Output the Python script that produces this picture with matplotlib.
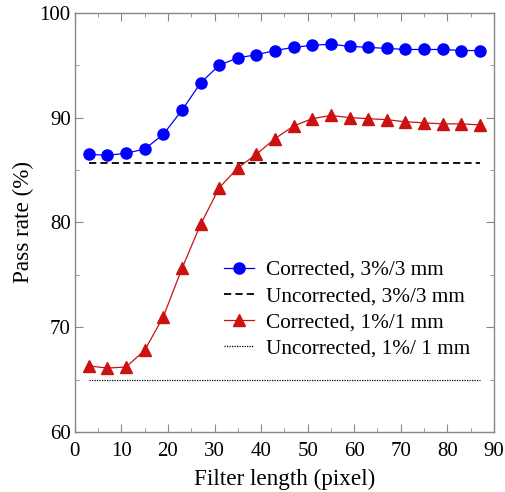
import numpy as np
import matplotlib
matplotlib.use('Agg')
import matplotlib.pyplot as plt
from matplotlib.ticker import MultipleLocator

# filter length (pixel)
filter_len = [3, 7, 11, 15, 19, 23, 27, 31, 35, 39, 43, 47, 51, 55, 59, 63, 67, 71, 75, 79, 83, 87]
# pass rates (%)
corr_3mm = [86.5, 86.4, 86.6, 87.0, 88.4, 90.7, 93.3, 95.0, 95.7, 96.0, 96.4, 96.7,
            96.9, 97.0, 96.8, 96.7, 96.6, 96.5, 96.5, 96.5, 96.4, 96.4]
corr_1mm = [66.3, 66.1, 66.2, 67.8, 71.0, 75.6, 79.8, 83.3, 85.2, 86.5, 88.0, 89.2,
            89.9, 90.2, 90.0, 89.9, 89.8, 89.6, 89.5, 89.4, 89.4, 89.3]
uncorr_3mm = 85.65
uncorr_1mm = 65.0

labels = ['Corrected, 3%/3 mm', 'Uncorrected, 3%/3 mm', 'Corrected, 1%/1 mm', 'Uncorrected, 1%/ 1 mm']

plt.rcParams['font.family'] = ['Liberation Serif', 'DejaVu Serif']

fig = plt.figure(figsize=(5.06, 4.92), dpi=100)
ax = fig.add_axes([0.148, 0.122, 0.828, 0.852])

x = np.array(filter_len)
ax.plot(x, corr_3mm, color='#0000ff', lw=0.9, marker='o', ms=8, mec='#0000ff', label=labels[0])
ax.plot([x[0], x[-1]], [uncorr_3mm]*2, color='black', lw=1.3, ls=(0, (4, 2.3)), label=labels[1])
ax.plot(x, corr_1mm, color='#cc1111', lw=0.9, marker='^', ms=8, mec='#cc1111', label=labels[2])
ax.plot([x[0], x[-1]], [uncorr_1mm]*2, color='black', lw=0.9, ls=(0, (1, 1)), label=labels[3])

ax.set_xlim(0, 90)
ax.set_ylim(60, 100)
ax.xaxis.set_major_locator(MultipleLocator(10))
ax.xaxis.set_minor_locator(MultipleLocator(5))
ax.yaxis.set_major_locator(MultipleLocator(10))
ax.yaxis.set_minor_locator(MultipleLocator(5))
for s in ax.spines.values():
    s.set_color('#888888')
    s.set_linewidth(1.0)
ax.tick_params(which='both', direction='in', top=True, right=True, color='#888888', labelsize=15)
ax.tick_params(axis='x', pad=7)
ax.tick_params(axis='y', pad=3)
ax.tick_params(which='major', length=6)
ax.tick_params(which='minor', length=3)

ax.set_xlabel('Filter length (pixel)', fontsize=16.7, labelpad=6)
ax.set_ylabel('Pass rate (%)', fontsize=16.7, labelpad=4)

ax.legend(loc='upper left', bbox_to_anchor=(0.355, 0.41), frameon=False, fontsize=15.3,
          handlelength=1.45, handletextpad=0.55, labelspacing=0.3, borderpad=0, borderaxespad=0)

fig.savefig('out.png', dpi=100)
